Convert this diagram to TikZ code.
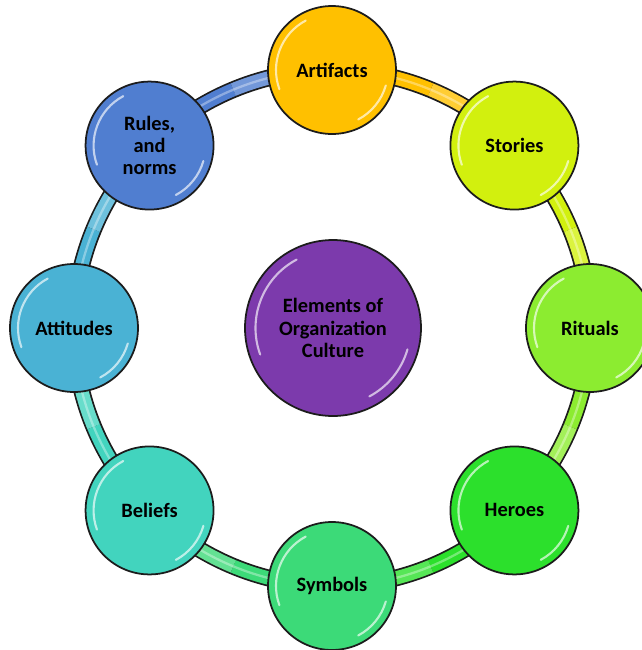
\documentclass[tikz,border=0pt]{standalone}
\usepackage{fontspec}
\setmainfont{Carlito}
\usetikzlibrary{calc, backgrounds}
\definecolor{Artifact}{HTML}{FFC000}
\definecolor{Story}{HTML}{D2F00E}
\definecolor{Ritual}{HTML}{8CEC30}
\definecolor{Hero}{HTML}{2CE02C}
\definecolor{Symbol}{HTML}{3CDA78}
\definecolor{Belief}{HTML}{42D4BE}
\definecolor{Attitude}{HTML}{4AB2D4}
\definecolor{Rule}{HTML}{507ED0}
\definecolor{Core}{HTML}{7C3AAC}
\definecolor{Rim}{HTML}{1C1C1C}

\begin{document}
\begin{tikzpicture}[
  x=0.02cm, y=0.02cm,
  font=\bfseries\fontsize{11.6}{12.6}\selectfont,
  gloss/.style={
    path picture={
      \draw[white, opacity=0.65, line width=1.2pt, line cap=round]
        ($(path picture bounding box.center)+(118:#1)$)
        arc[start angle=118, end angle=200, radius=#1];
      \draw[white, opacity=0.65, line width=1.2pt, line cap=round]
        ($(path picture bounding box.center)+(-16:#1)$)
        arc[start angle=-16, end angle=-62, radius=#1];
    }
  },
  element/.style={
    circle,
    draw=Rim,
    line width=1pt,
    fill=#1,
    minimum size=2.56cm,
    align=center,
    text=black,
    gloss=1.12cm
  },
  core/.style={
    circle,
    draw=Rim,
    line width=1pt,
    fill=Core,
    minimum size=3.52cm,
    align=center,
    text=black,
    gloss=1.55cm
  },
  tubeline/.style={draw=Rim, line width=9.6pt},
  tubefill/.style={draw=#1, line width=7.6pt},
  tubeshine/.style={draw=white, opacity=0.35, line width=1.3pt}
]

\useasboundingbox (-332,-322) rectangle (310,328);

\node[core] (culture) at (1,0) {Elements of\\Organization\\Culture};

\node[element=Artifact] (artifacts) at (90:258) {Artifacts};
\node[element=Story] (stories) at (45:258) {Stories};
\node[element=Ritual] (rituals) at (0:258) {Rituals};
\node[element=Hero] (heroes) at (-45:258) {Heroes};
\node[element=Symbol] (symbols) at (-90:258) {Symbols};
\node[element=Belief] (beliefs) at (-135:258) {Beliefs};
\node[element=Attitude] (attitudes) at (180:258) {Attitudes};
\node[element=Rule] (rules) at (135:258) {Rules,\\and\\norms};

\begin{scope}[on background layer]
  \foreach \from/\to/\mid/\c in {
      artifacts/stories/67.5/Artifact,
      stories/rituals/22.5/Story,
      rituals/heroes/-22.5/Ritual,
      heroes/symbols/-67.5/Hero,
      symbols/beliefs/-112.5/Symbol,
      beliefs/attitudes/-157.5/Belief,
      attitudes/rules/157.5/Attitude,
      rules/artifacts/112.5/Rule} {
    \coordinate (mid-\from) at (\mid:258);
    \draw[tubeline] (\from.center) to[bend left=22.5, looseness=0.885] (\to.center);
    \draw[tubefill=\c] (\from.center) to[bend left=11.25, looseness=0.86] (mid-\from);
    \draw[tubefill=\c!80!white] (mid-\from) to[bend left=11.25, looseness=0.86] (\to.center);
    \draw[tubeshine] (\from.center) to[bend left=22.5, looseness=0.885] (\to.center);
  }
\end{scope}

\end{tikzpicture}
\end{document}
